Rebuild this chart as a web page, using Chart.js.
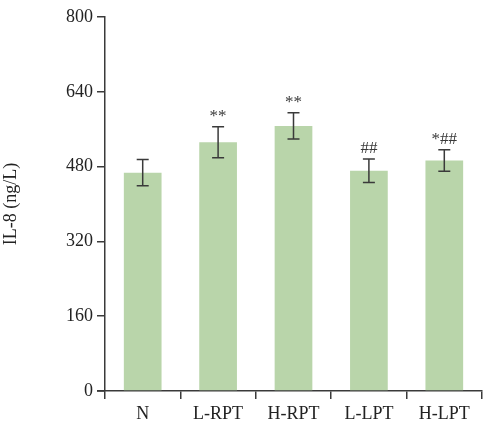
<!DOCTYPE html>
<html>
<head>
<meta charset="utf-8">
<script src="https://cdn.jsdelivr.net/npm/chart.js@4"></script>
<style>
  html, body { margin: 0; padding: 0; background: #fff; }
  #wrap { width: 500px; height: 445px; }
</style>
</head>
<body>
<div id="wrap"><canvas id="c" width="500" height="445"></canvas></div>
<script>
// data
const groups = ['N', 'L-RPT', 'H-RPT', 'L-LPT', 'H-LPT'];
const means = [467, 532, 567, 471, 493];
const errors = [28, 33, 28, 25, 23];
const marks = ['', '**', '**', '##', '*##'];
const yTicks = [0, 160, 320, 480, 640, 800];

const FONT = '"Liberation Serif", "DejaVu Serif", serif';
const INK = '#3a3a3a';

// error bars + significance marks
const errorBarPlugin = {
  id: 'errorBars',
  afterDatasetsDraw(chart) {
    const ctx = chart.ctx;
    const x = chart.scales.x, y = chart.scales.y;
    ctx.save();
    ctx.strokeStyle = INK;
    ctx.lineWidth = 1.5;
    groups.forEach((g, i) => {
      const cx = x.getPixelForValue(i);
      const top = y.getPixelForValue(means[i] + errors[i]);
      const bot = y.getPixelForValue(means[i] - errors[i]);
      ctx.beginPath();
      ctx.moveTo(cx, top); ctx.lineTo(cx, bot);
      ctx.moveTo(cx - 6, top); ctx.lineTo(cx + 6, top);
      ctx.moveTo(cx - 6, bot); ctx.lineTo(cx + 6, bot);
      ctx.stroke();
      if (marks[i]) {
        ctx.fillStyle = INK;
        ctx.font = '17px ' + FONT;
        ctx.textAlign = 'center';
        ctx.textBaseline = 'bottom';
        ctx.fillText(marks[i], cx, top - 2);
      }
    });
    // x axis line sticks out a bit left of the y axis
    const by = y.getPixelForValue(0);
    ctx.beginPath();
    ctx.moveTo(chart.chartArea.left - 8, by);
    ctx.lineTo(chart.chartArea.left, by);
    ctx.stroke();
    ctx.restore();
  }
};

new Chart(document.getElementById('c'), {
  type: 'bar',
  data: {
    labels: groups,
    datasets: [{
      data: means,
      backgroundColor: '#b9d5aa',
      borderWidth: 0,
      barPercentage: 0.5,
      categoryPercentage: 1.0
    }]
  },
  options: {
    responsive: false,
    animation: false,
    layout: { padding: { top: 17, right: 18, left: 0, bottom: 0 } },
    plugins: { legend: { display: false }, tooltip: { enabled: false } },
    scales: {
      x: {
        grid: { drawOnChartArea: false, tickLength: 8, tickColor: INK, lineWidth: 1.5 },
        border: { color: INK, width: 1.5 },
        ticks: { color: '#222', font: { family: FONT, size: 18 }, padding: 4 },
        afterFit: s => { s.height = 54; }
      },
      y: {
        min: 0, max: 800,
        afterBuildTicks: s => { s.ticks = yTicks.map(v => ({ value: v })); },
        grid: { drawOnChartArea: false, tickLength: 8, tickColor: INK, lineWidth: 1.5 },
        border: { color: INK, width: 1.5 },
        ticks: { color: '#222', font: { family: FONT, size: 18 }, padding: 4 },
        title: { display: true, text: 'IL-8 (ng/L)', color: '#222', font: { family: FONT, size: 18 }, padding: 0 },
        afterFit: s => { s.width = 105; }
      }
    }
  },
  plugins: [errorBarPlugin]
});
</script>
</body>
</html>
